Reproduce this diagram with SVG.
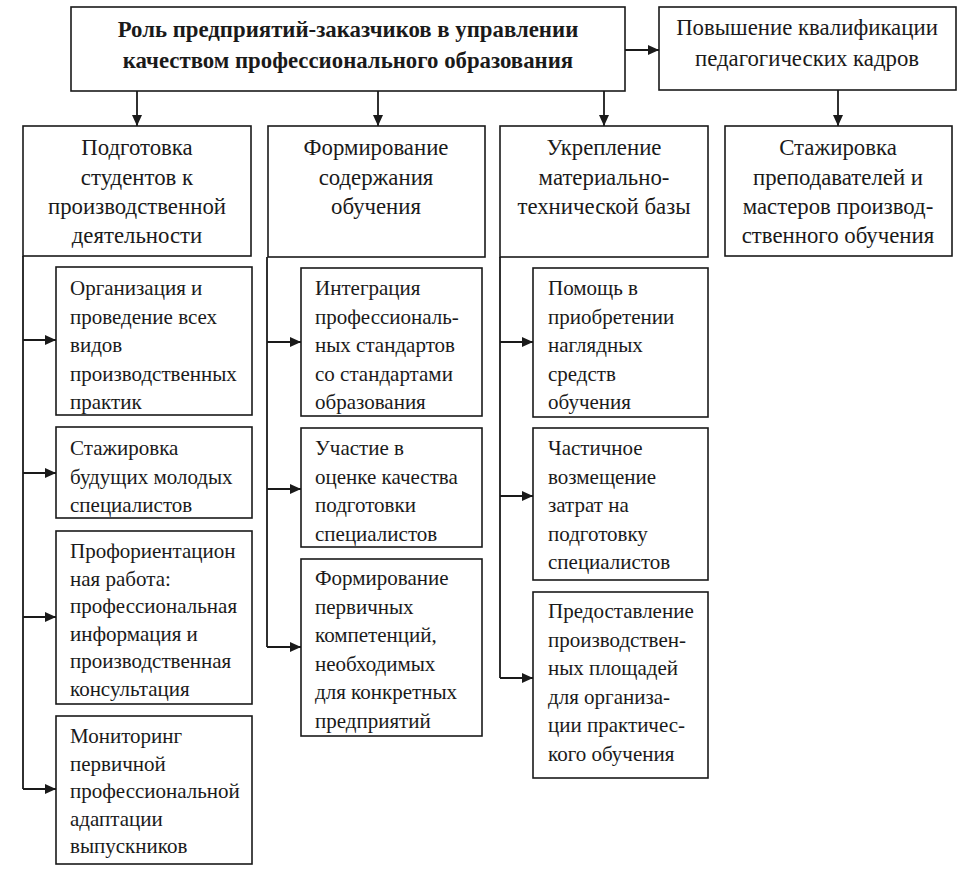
<svg xmlns="http://www.w3.org/2000/svg" width="979" height="881" viewBox="0 0 979 881">
<style>
rect{fill:#fff;stroke:#1a1a1a;stroke-width:1.6}
text{font-family:"Liberation Serif","Times New Roman",serif;font-size:21px;fill:#1a1a1a}
.c{text-anchor:middle;font-size:22.8px}
.b{font-weight:bold}
#connectors path{fill:none;stroke:#1a1a1a;stroke-width:1.8}
</style>
<defs>
<marker id="ah" markerUnits="userSpaceOnUse" markerWidth="12" markerHeight="10" refX="11" refY="5" orient="auto">
<path d="M0,0 L11,5 L0,10 Z" fill="#1a1a1a"/>
</marker>
</defs>
<rect x="0" y="0" width="979" height="881" style="stroke:none"/>
<g id="connectors">
<path d="M625,50 H659" marker-end="url(#ah)"/>
<path d="M137,91 V126" marker-end="url(#ah)"/>
<path d="M378,91 V126" marker-end="url(#ah)"/>
<path d="M604,91 V126" marker-end="url(#ah)"/>
<path d="M838,90 V126" marker-end="url(#ah)"/>
<path d="M23,256 V789"/>
<path d="M23,340 H56" marker-end="url(#ah)"/>
<path d="M23,473 H56" marker-end="url(#ah)"/>
<path d="M23,617 H56" marker-end="url(#ah)"/>
<path d="M23,789 H56" marker-end="url(#ah)"/>
<path d="M267,257 V647"/>
<path d="M267,342 H301" marker-end="url(#ah)"/>
<path d="M267,489 H301" marker-end="url(#ah)"/>
<path d="M267,647 H301" marker-end="url(#ah)"/>
<path d="M500,257 V678"/>
<path d="M500,342 H533" marker-end="url(#ah)"/>
<path d="M500,496 H533" marker-end="url(#ah)"/>
<path d="M500,678 H533" marker-end="url(#ah)"/>
</g>
<g id="root">
<rect x="71" y="7" width="554" height="84"/>
<text class="c b" x="348" y="37">Роль предприятий-заказчиков в управлении</text>
<text class="c b" x="348" y="68">качеством профессионального образования</text>
</g>
<g id="qual">
<rect x="659" y="7" width="297" height="83"/>
<text class="c" x="807" y="35">Повышение квалификации</text>
<text class="c" x="807" y="66">педагогических кадров</text>
</g>
<g id="h1">
<rect x="23" y="126" width="228" height="130"/>
<text class="c" x="137" y="155">Подготовка</text>
<text class="c" x="137" y="185">студентов к</text>
<text class="c" x="137" y="214">производственной</text>
<text class="c" x="137" y="243">деятельности</text>
</g>
<g id="h2">
<rect x="268" y="126" width="217" height="131"/>
<text class="c" x="376" y="155">Формирование</text>
<text class="c" x="376" y="185">содержания</text>
<text class="c" x="376" y="214">обучения</text>
</g>
<g id="h3">
<rect x="500" y="126" width="208" height="131"/>
<text class="c" x="604" y="155">Укрепление</text>
<text class="c" x="604" y="185">материально-</text>
<text class="c" x="604" y="214">технической базы</text>
</g>
<g id="h4">
<rect x="725" y="126" width="227" height="130"/>
<text class="c" x="838" y="155">Стажировка</text>
<text class="c" x="838" y="185">преподавателей и</text>
<text class="c" x="838" y="214">мастеров производ-</text>
<text class="c" x="838" y="243">ственного обучения</text>
</g>
<g id="s11">
<rect x="56" y="267" width="196" height="148"/>
<text x="70" y="295">Организация и</text>
<text x="70" y="323.5">проведение всех</text>
<text x="70" y="352">видов</text>
<text x="70" y="380.5">производственных</text>
<text x="70" y="409">практик</text>
</g>
<g id="s12">
<rect x="56" y="427" width="196" height="91"/>
<text x="70" y="455">Стажировка</text>
<text x="70" y="483.5">будущих молодых</text>
<text x="70" y="512">специалистов</text>
</g>
<g id="s13">
<rect x="56" y="531" width="196" height="173"/>
<text x="70" y="558">Профориентацион</text>
<text x="70" y="585.5">ная работа:</text>
<text x="70" y="613">профессиональная</text>
<text x="70" y="640.5">информация и</text>
<text x="70" y="668">производственная</text>
<text x="70" y="695.5">консультация</text>
</g>
<g id="s14">
<rect x="56" y="716" width="196" height="148"/>
<text x="70" y="743">Мониторинг</text>
<text x="70" y="770.5">первичной</text>
<text x="70" y="798">профессиональной</text>
<text x="70" y="825.5">адаптации</text>
<text x="70" y="853">выпускников</text>
</g>
<g id="s21">
<rect x="301" y="268" width="181" height="148"/>
<text x="315" y="295">Интеграция</text>
<text x="315" y="323.5">профессиональ-</text>
<text x="315" y="352">ных стандартов</text>
<text x="315" y="380.5">со стандартами</text>
<text x="315" y="409">образования</text>
</g>
<g id="s22">
<rect x="301" y="428" width="181" height="119"/>
<text x="315" y="455">Участие в</text>
<text x="315" y="483.5">оценке качества</text>
<text x="315" y="512">подготовки</text>
<text x="315" y="540.5">специалистов</text>
</g>
<g id="s23">
<rect x="301" y="559" width="181" height="177"/>
<text x="315" y="585">Формирование</text>
<text x="315" y="613.5">первичных</text>
<text x="315" y="642">компетенций,</text>
<text x="315" y="670.5">необходимых</text>
<text x="315" y="699">для конкретных</text>
<text x="315" y="727.5">предприятий</text>
</g>
<g id="s31">
<rect x="533" y="268" width="175" height="149"/>
<text x="548" y="295">Помощь в</text>
<text x="548" y="323.5">приобретении</text>
<text x="548" y="352">наглядных</text>
<text x="548" y="380.5">средств</text>
<text x="548" y="409">обучения</text>
</g>
<g id="s32">
<rect x="533" y="428" width="175" height="152"/>
<text x="548" y="455">Частичное</text>
<text x="548" y="483.5">возмещение</text>
<text x="548" y="512">затрат на</text>
<text x="548" y="540.5">подготовку</text>
<text x="548" y="569">специалистов</text>
</g>
<g id="s33">
<rect x="533" y="592" width="175" height="186"/>
<text x="548" y="618">Предоставление</text>
<text x="548" y="646.5">производствен-</text>
<text x="548" y="675">ных площадей</text>
<text x="548" y="703.5">для организа-</text>
<text x="548" y="732">ции практичес-</text>
<text x="548" y="760.5">кого обучения</text>
</g>
</svg>
